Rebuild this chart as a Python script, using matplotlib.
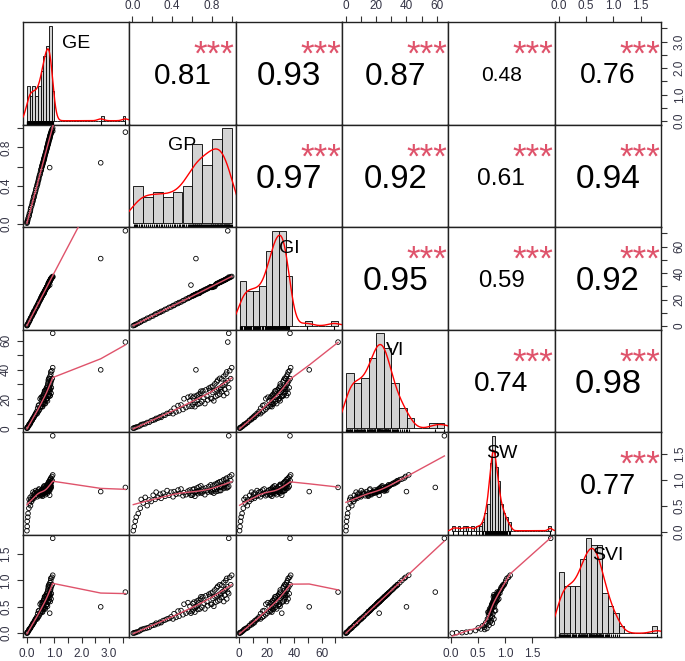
import numpy as np
import matplotlib
matplotlib.use("Agg")
import matplotlib.pyplot as plt

plt.rcParams['font.family'] = ['Liberation Sans', 'DejaVu Sans']

# ---------------- data (read/estimated from the picture) ----------------
names = ["GE", "GP", "GI", "VI", "SW", "SVI"]

GP = [0.01, 0.02, 0.03, 0.04, 0.06, 0.08, 0.09,
      0.11, 0.13, 0.15, 0.17, 0.19,
      0.21, 0.23, 0.24, 0.26, 0.28, 0.29,
      0.31, 0.33, 0.35, 0.37, 0.39,
      0.41, 0.42, 0.44, 0.46, 0.47, 0.49,
      0.51, 0.52, 0.54, 0.56, 0.57, 0.58,
      0.60, 0.61, 0.61, 0.62, 0.63, 0.63, 0.65, 0.65, 0.66, 0.67, 0.67, 0.68, 0.69, 0.69,
      0.70, 0.71, 0.72, 0.73, 0.74, 0.75, 0.76, 0.77, 0.78, 0.79, 0.79,
      0.80, 0.81, 0.81, 0.82, 0.83, 0.83, 0.84, 0.85, 0.85, 0.86, 0.86, 0.87, 0.88, 0.88, 0.89, 0.89,
      0.90, 0.90, 0.91, 0.92, 0.92, 0.93, 0.93, 0.94, 0.94, 0.95, 0.95, 0.96, 0.97, 0.98, 0.99, 1.00,
      0.59, 0.64, 0.96, 0.97]

GE = [0.01, 0.02, 0.02, 0.04, 0.05, 0.08, 0.09,
      0.10, 0.13, 0.14, 0.15, 0.18,
      0.20, 0.21, 0.23, 0.24, 0.27, 0.26,
      0.29, 0.31, 0.33, 0.34, 0.37,
      0.38, 0.40, 0.41, 0.43, 0.44, 0.45,
      0.47, 0.49, 0.50, 0.53, 0.52, 0.54,
      0.56, 0.57, 0.56, 0.58, 0.59, 0.58, 0.61, 0.60, 0.62, 0.62, 0.63, 0.63, 0.64, 0.65,
      0.65, 0.66, 0.67, 0.68, 0.69, 0.70, 0.71, 0.72, 0.73, 0.73, 0.74,
      0.74, 0.76, 0.75, 0.76, 0.77, 0.78, 0.78, 0.79, 0.80, 0.80, 0.79, 0.81, 0.82, 0.81, 0.83, 0.84,
      0.84, 0.83, 0.85, 0.86, 0.85, 0.87, 0.86, 0.88, 0.87, 0.89, 0.88, 0.90, 0.90, 0.92, 0.93, 0.95,
      0.84, 2.70, 3.60, 0.95]

GI = [0.3, 0.6, 1.0, 1.4, 2.1, 3.0, 3.5,
      4.3, 4.8, 5.9, 6.2, 7.3,
      7.7, 8.9, 9.0, 9.9, 10.4, 11.1,
      11.5, 12.6, 13.0, 14.1, 14.5,
      15.5, 15.6, 16.7, 17.1, 17.8, 18.2,
      19.2, 19.4, 20.4, 20.9, 21.5, 21.7,
      22.6, 22.8, 23.0, 23.3, 23.5, 23.8, 24.3, 24.6, 24.6, 24.7, 24.9, 25.1, 25.8, 26.0,
      26.3, 26.5, 27.1, 27.3, 27.8, 28.1, 28.4, 28.9, 29.3, 29.5, 29.8,
      29.2, 29.7, 29.5, 29.8, 29.9, 30.6, 31.5, 31.9, 32.0, 32.2, 32.4, 32.6, 33.0, 33.1, 33.4, 33.3,
      33.7, 33.9, 34.1, 34.5, 34.4, 34.9, 34.8, 35.2, 35.3, 35.6, 35.7, 36.1, 36.4, 36.7, 37.1, 37.5,
      31.0, 51.0, 72.0, 37.0]

VI = [0.1, 0.3, 0.5, 0.9, 1.2, 1.8, 2.6,
      2.9, 3.1, 4.0, 4.1, 5.2,
      5.6, 6.0, 6.8, 7.0, 7.9, 7.5,
      8.9, 9.0, 10.2, 10.3, 11.6,
      10.0, 13.8, 11.2, 15.6, 12.0, 16.0,
      12.9, 20.2, 14.2, 21.3, 15.0, 19.0,
      15.0, 20.8, 16.3, 21.9, 17.6, 14.8, 22.5, 18.9, 16.5, 23.4, 21.4, 17.0, 24.0, 25.4,
      18.2, 25.6, 21.0, 16.9, 26.3, 22.1, 19.4, 27.5, 26.0, 20.5, 28.2,
      20.2, 28.9, 24.5, 18.8, 30.4, 25.6, 21.8, 31.8, 26.4, 22.6, 33.0, 27.2, 23.4, 34.2, 28.0, 26.9,
      25.0, 33.8, 29.2, 22.4, 35.6, 30.3, 26.6, 37.0, 31.2, 24.0, 38.6, 32.5, 27.8, 39.4, 34.0, 41.5,
      22.0, 40.0, 59.0, 65.0]

SW = [0.02, 0.10, 0.20, 0.28, 0.35, 0.45, 0.62,
      0.55, 0.66, 0.50, 0.61, 0.58,
      0.70, 0.62, 0.76, 0.66, 0.72, 0.64,
      0.74, 0.68, 0.79, 0.70, 0.76,
      0.67, 0.77, 0.72, 0.80, 0.73, 0.82,
      0.69, 0.75, 0.71, 0.78, 0.74, 0.80,
      0.70, 0.81, 0.72, 0.82, 0.76, 0.68, 0.84, 0.77, 0.73, 0.86, 0.79, 0.75, 0.88, 0.78,
      0.74, 0.83, 0.78, 0.71, 0.84, 0.79, 0.76, 0.87, 0.80, 0.77, 0.90,
      0.76, 0.88, 0.80, 0.74, 0.91, 0.81, 0.77, 0.92, 0.82, 0.78, 0.94, 0.85, 0.79, 0.96, 0.86, 0.79,
      0.85, 0.97, 0.89, 0.83, 1.00, 0.91, 0.86, 1.01, 0.93, 0.84, 1.03, 0.95, 0.87, 1.06, 0.98, 1.09,
      0.70, 0.77, 0.85, 1.84]

SVI = [0.00, 0.01, 0.01, 0.02, 0.03, 0.05, 0.07,
       0.08, 0.09, 0.10, 0.11, 0.14,
       0.15, 0.16, 0.19, 0.18, 0.21, 0.20,
       0.24, 0.25, 0.27, 0.28, 0.31,
       0.27, 0.37, 0.30, 0.42, 0.32, 0.43,
       0.35, 0.55, 0.38, 0.58, 0.41, 0.51,
       0.41, 0.56, 0.44, 0.59, 0.48, 0.40, 0.61, 0.51, 0.45, 0.63, 0.58, 0.46, 0.65, 0.69,
       0.49, 0.69, 0.57, 0.46, 0.71, 0.60, 0.52, 0.74, 0.70, 0.55, 0.76,
       0.55, 0.78, 0.66, 0.51, 0.82, 0.69, 0.59, 0.86, 0.71, 0.61, 0.89, 0.73, 0.63, 0.92, 0.76, 0.73,
       0.68, 0.91, 0.79, 0.60, 0.96, 0.82, 0.72, 1.00, 0.84, 0.65, 1.04, 0.88, 0.75, 1.06, 0.92, 1.10,
       0.38, 0.50, 0.78, 1.80]

# correlation labels shown in the upper panels (row, col) -> text
cor_pairs = [(0, 1), (0, 2), (0, 3), (0, 4), (0, 5),
             (1, 2), (1, 3), (1, 4), (1, 5),
             (2, 3), (2, 4), (2, 5),
             (3, 4), (3, 5),
             (4, 5)]
cor_values = [0.81, 0.93, 0.87, 0.48, 0.76,
              0.97, 0.92, 0.61, 0.94,
              0.95, 0.59, 0.92,
              0.74, 0.98,
              0.77]
cor_stars = ["***"] * 15

# axis ticks (major tick step, labelled step, format) and histogram bin widths
tick_step = [0.5, 0.2, 10, 10, 0.5, 0.5]
label_step = [1.0, 0.4, 20, 20, 0.5, 0.5]
tick_fmt = ["%.1f", "%.1f", "%d", "%d", "%.1f", "%.1f"]
bin_width = [0.1, 0.1, 5, 5, 0.05, 0.1]

# ---------------- helpers ----------------
def lowess(x, y, f=2/3, iters=3):
    o = np.argsort(x, kind="mergesort")
    x = np.asarray(x, float)[o]
    y = np.asarray(y, float)[o]
    n = len(x)
    ns = max(min(int(f * n + 1e-7), n), 2)
    rw = np.ones(n)
    ys = np.zeros(n)
    for it in range(iters + 1):
        for i in range(n):
            d = np.abs(x - x[i])
            h = max(np.sort(d)[ns - 1], 1e-12)
            u = d / h
            w = np.where(u <= 0.001, 1.0, np.where(u <= 0.999, (1 - u ** 3) ** 3, 0.0)) * rw
            sw = w.sum()
            if sw <= 0:
                ys[i] = y[i]
                continue
            w = w / sw
            xm = (w * x).sum()
            b = (w * (x - xm) ** 2).sum()
            if np.sqrt(b) > 0.001 * (x[-1] - x[0]):
                ys[i] = (w * y).sum() + (w * (x - xm) * y).sum() / b * (x[i] - xm)
            else:
                ys[i] = (w * y).sum()
        if it == iters:
            break
        res = y - ys
        cmad = 6 * np.median(np.abs(res))
        if cmad < 1e-7 * np.mean(np.abs(y)):
            break
        r = np.abs(res) / cmad
        rw = np.where(r <= 0.001, 1.0, np.where(r <= 0.999, (1 - r ** 2) ** 2, 0.0))
    return x, ys


def kde(v):
    v = np.asarray(v, float)
    n = len(v)
    sd = v.std(ddof=1)
    q75, q25 = np.percentile(v, [75, 25])
    lo = min(sd, (q75 - q25) / 1.34)
    bw = 0.9 * lo * n ** (-0.2)
    g = np.linspace(v.min() - 3 * bw, v.max() + 3 * bw, 512)
    d = np.exp(-0.5 * ((g[:, None] - v[None, :]) / bw) ** 2).sum(axis=1) / (n * bw * np.sqrt(2 * np.pi))
    return g, d


def rng(v):
    lo, hi = min(v), max(v)
    d = hi - lo
    return lo - 0.04 * d, hi + 0.04 * d


data = [np.array(GE), np.array(GP), np.array(GI), np.array(VI), np.array(SW), np.array(SVI)]
lims = [rng(v) for v in data]

W, H = 685, 661
fig = plt.figure(figsize=(W / 100, H / 100), dpi=100)
X0, X1, Y0, Y1 = 23, 661, 22, 637
pw = (X1 - X0) / 6
ph = (Y1 - Y0) / 6

axes = {}
for i in range(6):
    for j in range(6):
        ax = fig.add_axes([(X0 + j * pw) / W, 1 - (Y0 + (i + 1) * ph) / H, pw / W, ph / H])
        for s in ax.spines.values():
            s.set_linewidth(1.0)
            s.set_color("#222222")
        axes[(i, j)] = ax

base_pt = 25.2  # character size used for r = 1
em_px = base_pt / 72 * 100

for i in range(6):
    for j in range(6):
        ax = axes[(i, j)]
        if i == j:
            v = data[i]
            step = bin_width[i]
            top = np.ceil(v.max() / step - 1e-9) * step
            if top < v.max():
                top += step
            edges = np.round(np.arange(0, top + step / 2, step), 10)
            cnt, _, _ = ax.hist(v, bins=edges, density=True, facecolor="#D3D3D3",
                                edgecolor="black", linewidth=0.6, zorder=2)
            m = cnt.max()
            span = edges[-1] - edges[0]
            ax.set_xlim(edges[0] - 0.04 * span, edges[-1] + 0.04 * span)
            ax.set_ylim(-0.04 * m, 1.04 * m)
            g, d = kde(v)
            ax.plot(g, d, color="red", lw=1.0, zorder=3)
            ax.vlines(v, 0, 0.03, transform=ax.get_xaxis_transform(), color="black",
                      lw=0.8, zorder=3)
            em = 14 / 72 * 100
            ax.text(0.5, 0.82 - 0.365 * em / ph, names[i], transform=ax.transAxes,
                    ha="center", va="baseline", fontsize=14, color="black", zorder=5)
        elif i > j:
            x, y = data[j], data[i]
            ax.scatter(x, y, s=11, facecolors="none", edgecolors="black",
                       linewidths=0.6, zorder=2)
            lx, ly = lowess(x, y)
            ax.plot(lx, ly, color="#DF536B", lw=1.0, zorder=3)
            ax.set_xlim(*lims[j])
            ax.set_ylim(*lims[i])
        else:
            k = cor_pairs.index((i, j))
            r = cor_values[k]
            size = base_pt * (abs(r) + 0.3) / 1.3
            e = size / 72 * 100
            ax.text(0.5, 0.5 - 0.358 * e / ph, "%.2f" % r, transform=ax.transAxes,
                    ha="center", va="baseline", fontsize=size, color="black")
            ax.text(0.8, 0.777 - 0.57 * em_px / ph, cor_stars[k], transform=ax.transAxes,
                    ha="center", va="baseline", fontsize=base_pt, color="#DF536B")
            ax.set_xlim(*lims[j])
            ax.set_ylim(*lims[i])
        ax.set_xticks([])
        ax.set_yticks([])


def tick_info(k, lim):
    st = tick_step[k]
    ls = label_step[k]
    t = np.round(np.arange(0, lim[1] + 1e-9, st), 10)
    t = [v for v in t if lim[0] <= v <= lim[1]]
    labs = []
    for v in t:
        q = v / ls
        labs.append(tick_fmt[k] % v if abs(q - round(q)) < 1e-6 else "")
    return t, labs


tick_kw = dict(length=4.3, width=0.8, color="#333333", labelsize=8.5,
               labelcolor="#333344", direction="out")

# top axes
for j in (1, 3, 5):
    ax = axes[(0, j)]
    lim = ax.get_xlim()
    t, labs = tick_info(j, lim)
    ax.set_xticks(t)
    ax.set_xticklabels(labs)
    ax.xaxis.set_ticks_position("top")
    ax.tick_params(axis="x", top=True, bottom=False, labeltop=True, labelbottom=False,
                   pad=3.2, **tick_kw)
    ax.set_xlim(lim)
# bottom axes
for j in (0, 2, 4):
    ax = axes[(5, j)]
    lim = ax.get_xlim()
    t, labs = tick_info(j, lim)
    ax.set_xticks(t)
    ax.set_xticklabels(labs)
    ax.tick_params(axis="x", pad=3.8, **tick_kw)
    ax.set_xlim(lim)
# left axes
for i in (1, 3, 5):
    ax = axes[(i, 0)]
    lim = ax.get_ylim()
    t, labs = tick_info(i, lim)
    ax.set_yticks(t)
    ax.set_yticklabels(labs, rotation=90, va="center")
    ax.tick_params(axis="y", pad=3.5, **tick_kw)
    ax.set_ylim(lim)
# right axes
for i in (0, 2, 4):
    ax = axes[(i, 5)]
    lim = ax.get_ylim()
    t, labs = tick_info(i, lim)
    ax.set_yticks(t)
    ax.yaxis.tick_right()
    ax.set_yticklabels(labs, rotation=90, va="center")
    ax.tick_params(axis="y", left=False, right=True, labelleft=False, labelright=True,
                   pad=4.8, **tick_kw)
    ax.set_ylim(lim)

fig.savefig("out.png", dpi=100, facecolor="white")
